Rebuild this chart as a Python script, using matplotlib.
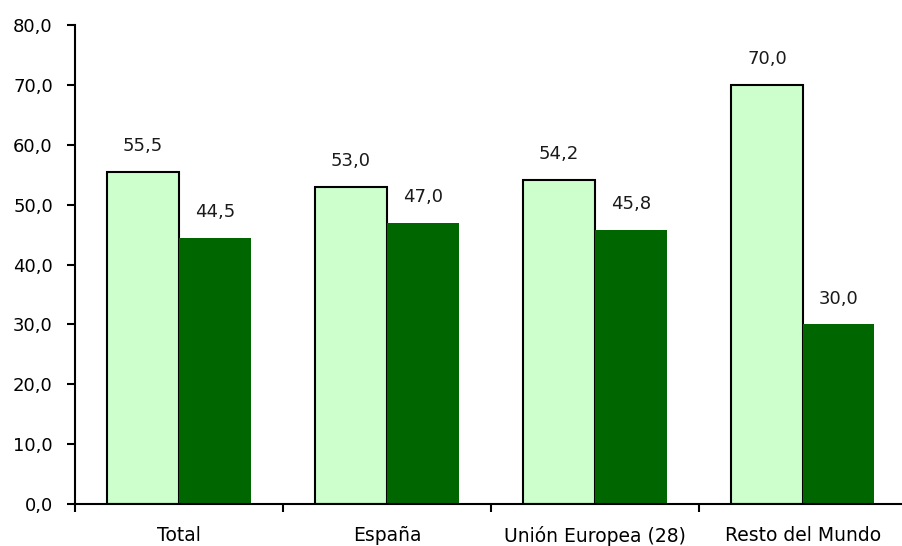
import matplotlib.pyplot as plt
import numpy as np

categories = ['Total', 'España', 'Unión Europea (28)', 'Resto del Mundo']
serie_clara = [55.5, 53.0, 54.2, 70.0]
serie_oscura = [44.5, 47.0, 45.8, 30.0]

plt.rcParams['font.family'] = ['DejaVu Sans']
fig = plt.figure(figsize=(9.03, 5.46), dpi=100)
ax = fig.add_axes([0.0831, 0.0769, 0.921, 0.877])

x = np.arange(len(categories))
width = 0.345

b1 = ax.bar(x - width / 2, serie_clara, width, color='#CCFFCC', edgecolor='black', linewidth=1.5)
b2 = ax.bar(x + width / 2, serie_oscura, width, color='#006600', edgecolor='none')

for bars in (b1, b2):
    for bar in bars:
        h = bar.get_height()
        ax.annotate(f'{h:.1f}'.replace('.', ','), (bar.get_x() + bar.get_width() / 2, h),
                    xytext=(0, 12), textcoords='offset points', ha='center', va='bottom',
                    fontsize=13, color='#1a1a1a')

ax.set_xlim(-0.5, len(categories) - 0.5)
ax.set_ylim(0, 80)
ax.set_yticks(np.arange(0, 81, 10))
ax.set_yticklabels([f'{v:.1f}'.replace('.', ',') for v in np.arange(0, 81, 10)], fontsize=13)
ax.set_xticks(x)
ax.set_xticklabels(categories, fontsize=13.5)
ax.tick_params(axis='x', which='major', length=0, pad=16)
ax.set_xticks(np.arange(-0.5, len(categories), 1), minor=True)
ax.tick_params(axis='x', which='minor', length=6, width=1.5, direction='out')
ax.tick_params(axis='y', length=6, width=1.5, direction='out', pad=10)

for s in ['top', 'right']:
    ax.spines[s].set_visible(False)
for s in ['left', 'bottom']:
    ax.spines[s].set_linewidth(1.5)

fig.savefig('out.png', dpi=100)
